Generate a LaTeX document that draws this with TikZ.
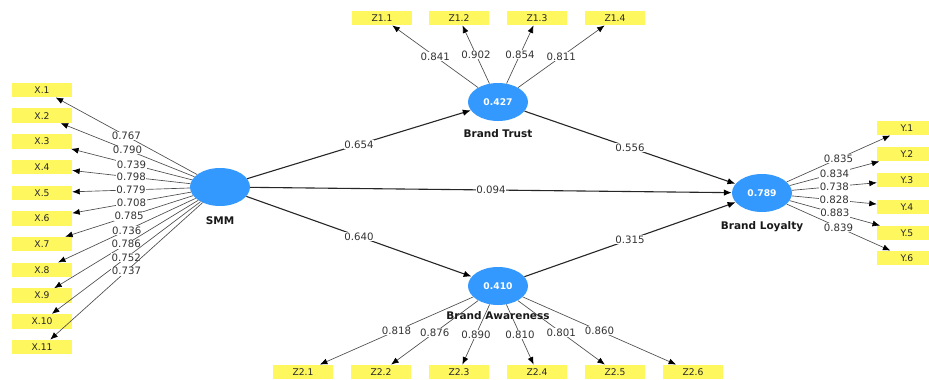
\documentclass[tikz,border=0pt]{standalone}
\usepackage{fontspec}
\setmainfont{DejaVu Sans}
\usetikzlibrary{arrows.meta,shapes.geometric}
\definecolor{lvblue}{HTML}{3399FF}
\definecolor{mvyellow}{HTML}{FFF75E}
\begin{document}
\begin{tikzpicture}[x=1pt,y=-1pt,
 lv/.style={ellipse,fill=lvblue,minimum width=60pt,minimum height=38pt,inner sep=0pt,text=white,font=\bfseries\fontsize{9.2}{10}\selectfont},
 mv/.style={rectangle,fill=mvyellow,minimum width=60pt,minimum height=14.5pt,inner sep=0pt,font=\fontsize{9.2}{10}\selectfont,text=black!85},
 lvname/.style={font=\bfseries\fontsize{10.5}{12}\selectfont,text=black!90},
 ind/.style={draw=black!70,line width=0.65pt,-{Latex[length=7.5pt,width=6pt,black]}},
 strpath/.style={draw=black!85,line width=1.1pt,-{Latex[length=8pt,width=6.5pt,black]}},
 val/.style={fill=white,inner sep=0.6pt,font=\fontsize{10.2}{11}\selectfont,text=black!80}]
\clip (0,0) rectangle (929,380);
\fill[white] (0,0) rectangle (929,380);
% latent variables
\node[lv] (smm) at (220,187) {};
\node[lv] (bt) at (498,102) {0.427};
\node[lv] (bl) at (762,193) {0.789};
\node[lv] (ba) at (498,286) {0.410};
% indicators SMM
\foreach \i/\v in {1/0.767,2/0.790,3/0.739,4/0.798,5/0.779,6/0.708,7/0.785,8/0.736,9/0.786,10/0.752,11/0.737}{
  \node[mv] (x\i) at (42,{90+(\i-1)*25.7}) {X.\i};
  \draw[ind] (smm) -- node[val]{\v} (x\i);
}
% indicators Brand Trust
\foreach \i/\xx/\v in {1/382/0.841,2/459/0.902,3/537/0.854,4/615/0.811}{
  \node[mv] (za\i) at (\xx,18) {Z1.\i};
  \draw[ind] (bt) -- node[val]{\v} (za\i);
}
% indicators Brand Loyalty
\foreach \i/\yy/\v in {1/128/0.835,2/154/0.834,3/180/0.738,4/207/0.828,5/233/0.883,6/258/0.839}{
  \node[mv] (y\i) at (907,\yy) {Y.\i};
  \draw[ind] (bl) -- node[val]{\v} (y\i);
}
% indicators Brand Awareness
\foreach \i/\xx/\v in {1/303/0.818,2/381/0.876,3/459/0.890,4/537/0.810,5/615/0.801,6/693/0.860}{
  \node[mv] (zb\i) at (\xx,372) {Z2.\i};
  \draw[ind] (ba) -- node[val]{\v} (zb\i);
}
% structural paths
\draw[strpath] (smm) -- node[val]{0.654} (bt);
\draw[strpath] (smm) -- node[val]{0.094} (bl);
\draw[strpath] (smm) -- node[val]{0.640} (ba);
\draw[strpath] (bt) -- node[val]{0.556} (bl);
\draw[strpath] (ba) -- node[val]{0.315} (bl);
% names
\node[lvname] (nsmm) at (220,221) {SMM};
\node[lvname] (nbt) at (498,134) {Brand Trust};
\node[lvname] (nbl) at (762,227) {Brand Loyalty};
\node[lvname] (nba) at (498,316) {Brand Awareness};
\end{tikzpicture}
\end{document}
